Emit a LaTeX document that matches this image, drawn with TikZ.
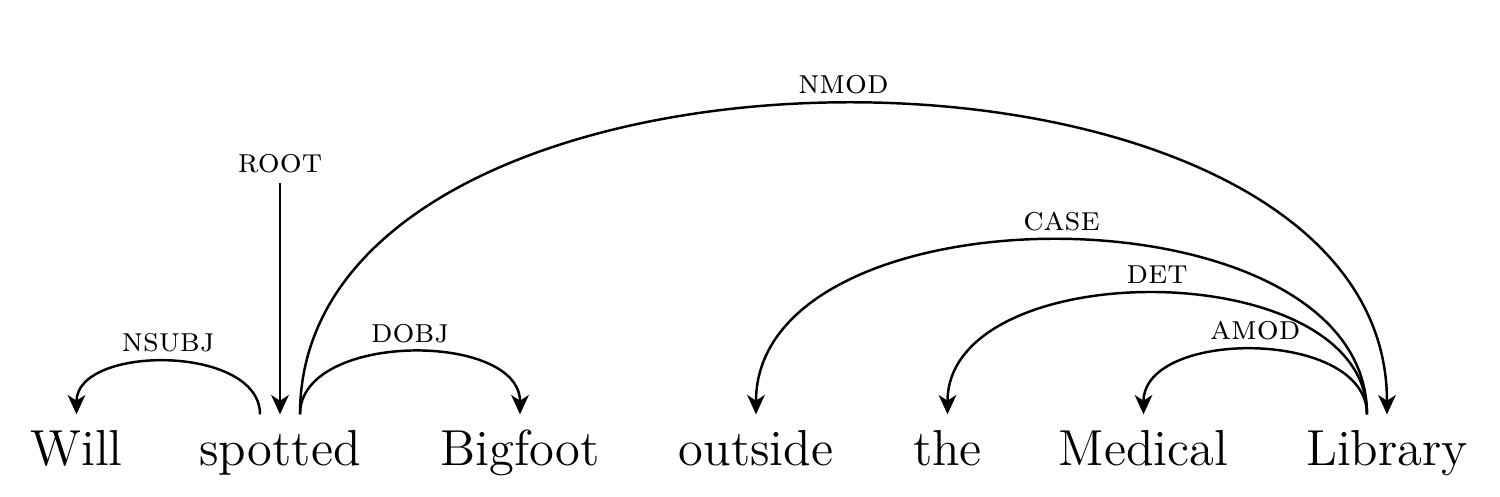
\documentclass[tikz,border=0pt]{standalone}
\usetikzlibrary{arrows.meta}

\begin{document}
\begin{tikzpicture}
    \tikzstyle{word}=[anchor=base, font=\Large, inner xsep=0pt,
    inner ysep=3.7pt, text height=10.5pt, text depth=3pt]
    \tikzstyle{dep}=[-{Stealth[length=5.5pt,width=5pt,inset=1.6pt]}, line width=0.7pt]
    \tikzstyle{lbl}=[above, inner sep=2.5pt, text height=5pt, text depth=0pt,
    font=\fontsize{9.8}{11}\selectfont\scshape]
    \useasboundingbox (0,0) rectangle (15,4.96);
    \foreach \x/\w/\n in {0.765/Will/will, 2.80/spotted/spot, 5.20/Bigfoot/big,
        7.56/outside/out, 9.475/the/the, 11.435/Medical/med, 13.87/Library/lib}
    \node[word] (\n) at (\x,0.31) {\w};

    \coordinate (top) at (2.80,3.13);
    \draw[dep] (top) node[lbl] (root) {root} -- (spot.north);
    \draw[dep] ([xshift=-2mm]spot.north) .. controls +(0,0.70) and +(0,0.70) .. (will.north)
        node[lbl, midway] (nsubj) {nsubj};
    \draw[dep] ([xshift=2mm]spot.north) .. controls +(0,0.83) and +(0,0.83) .. (big.north)
        node[lbl, midway] (dobj) {dobj};
    \draw[dep] ([xshift=2mm]spot.north) .. controls +(0,4.14) and +(0,4.14) .. (lib.north)
        node[lbl, midway] (nmod) {nmod};
    \draw[dep] ([xshift=-2mm]lib.north) .. controls +(0,2.32) and +(0,2.32) .. (out.north)
        node[lbl, midway] (case) {case};
    \draw[dep] ([xshift=-2mm]lib.north) .. controls +(0,1.61) and +(0,1.61) .. (the.north)
        node[lbl, midway] (det) {det};
    \draw[dep] ([xshift=-2mm]lib.north) .. controls +(0,0.86) and +(0,0.86) .. (med.north)
        node[lbl, midway] (amod) {amod};
\end{tikzpicture}
\end{document}
